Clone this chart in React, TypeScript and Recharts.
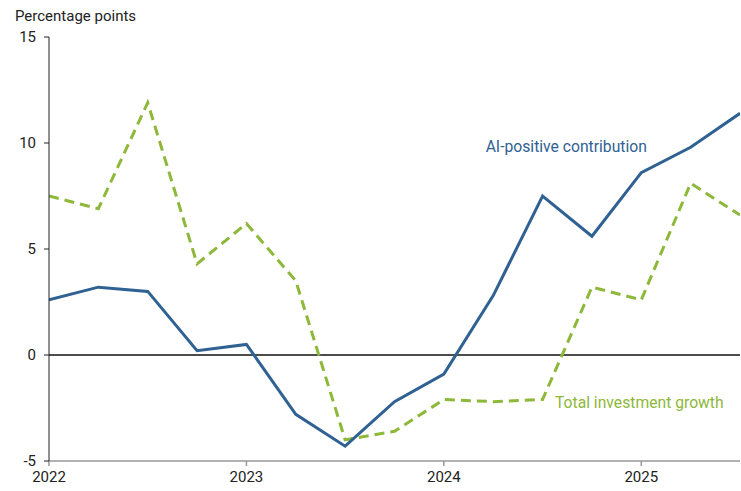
import { LineChart, Line, XAxis, YAxis, ReferenceLine, ReferenceDot } from "recharts";

// quarter start dates, as fractional years
const quarters = [
  2022.0, 2022.25, 2022.5, 2022.75,
  2023.0, 2023.25, 2023.5, 2023.75,
  2024.0, 2024.25, 2024.5, 2024.75,
  2025.0, 2025.25, 2025.5,
];
const aiPositive = [2.6, 3.2, 3.0, 0.2, 0.5, -2.8, -4.3, -2.2, -0.9, 2.8, 7.5, 5.6, 8.6, 9.8, 11.4];
const totalInvestment = [7.5, 6.9, 11.9, 4.3, 6.2, 3.5, -4.0, -3.6, -2.1, -2.2, -2.1, 3.2, 2.6, 8.1, 6.6];
const yearTicks = [2022, 2023, 2024, 2025];
const valueTicks = [-5, 0, 5, 10, 15];

const BLUE = "#2f6192";
const GREEN = "#8db83a";
const FONT = "Roboto, 'Noto Sans', sans-serif";

const data = quarters.map((q, i) => ({ q, ai: aiPositive[i], total: totalInvestment[i] }));

export default function App() {
  return (
    <div style={{ position: "absolute", left: 0, top: 0, width: 741, height: 491, background: "#fff", fontFamily: FONT }}>
      <div style={{ position: "absolute", left: 15, top: 7, fontSize: 15, color: "#222" }}>Percentage points</div>
      <LineChart width={741} height={491} data={data} margin={{ top: 37, right: 1, left: 0, bottom: 0 }}>
        <XAxis
          dataKey="q"
          type="number"
          domain={[2022, 2025.5]}
          ticks={yearTicks}
          height={30}
          tick={{ fontSize: 15, fill: "#222", fontFamily: FONT }}
          tickSize={5}
          tickMargin={5}
          stroke="#999"
          strokeWidth={1.5}
          allowDataOverflow
        />
        <YAxis
          type="number"
          domain={[-5, 15]}
          ticks={valueTicks}
          width={49}
          tick={{ fontSize: 15, fill: "#222", fontFamily: FONT }}
          tickSize={5}
          tickMargin={8}
          stroke="#222"
          interval={0}
        />
        <ReferenceLine y={0} stroke="#111" strokeWidth={1.5} strokeOpacity={1} />
        <Line
          dataKey="total"
          type="linear"
          stroke={GREEN}
          strokeWidth={3}
          strokeDasharray="10 6"
          dot={false}
          isAnimationActive={false}
        />
        <Line
          dataKey="ai"
          type="linear"
          stroke={BLUE}
          strokeWidth={3}
          dot={false}
          isAnimationActive={false}
        />
        <ReferenceDot
          x={2024.62}
          y={9.86}
          r={0}
          label={{ value: "AI-positive contribution", position: "center", fill: BLUE, fontSize: 15.7, fontFamily: FONT }}
        />
        <ReferenceDot
          x={2024.99}
          y={-2.26}
          r={0}
          label={{ value: "Total investment growth", position: "center", fill: GREEN, fontSize: 15.7, fontFamily: FONT }}
        />
      </LineChart>
    </div>
  );
}
